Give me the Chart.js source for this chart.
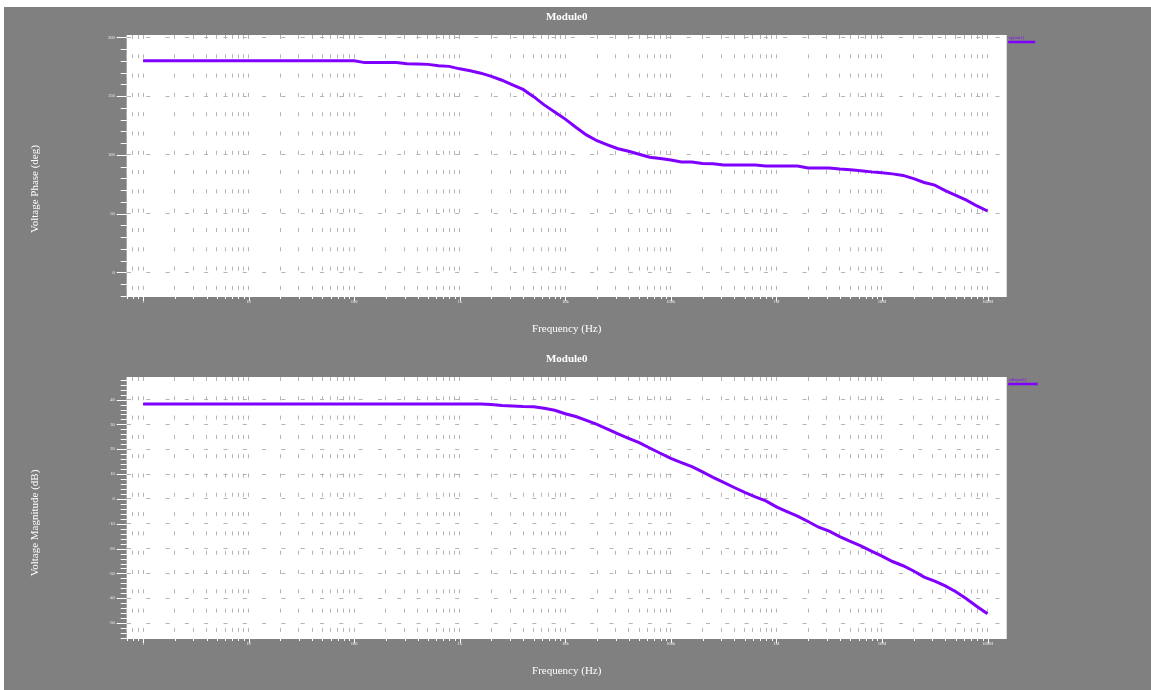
<!DOCTYPE html>
<html>
<head>
<meta charset="utf-8">
<title>Module0</title>
<script src="https://cdn.jsdelivr.net/npm/chart.js"></script>
<style>
  body { margin: 0; background: #ffffff; }
  #wrap { position: absolute; left: 4px; top: 7px; width: 1147px; height: 684px; background: #808080; overflow: hidden; }
  canvas { display: block; }
</style>
</head>
<body>
<div id="wrap">
  <canvas id="phaseChart" width="1147" height="342"></canvas>
  <canvas id="magChart" width="1147" height="342"></canvas>
</div>
<script>
// Sweep frequencies (Hz), 10 points per decade
const freqHz = [
  1, 1.259, 1.585, 1.995, 2.512, 3.162, 3.981, 5.012, 6.310, 7.943,
  10, 12.59, 15.85, 19.95, 25.12, 31.62, 39.81, 50.12, 63.10, 79.43,
  100, 125.9, 158.5, 199.5, 251.2, 316.2, 398.1, 501.2, 631.0, 794.3,
  1e3, 1.259e3, 1.585e3, 1.995e3, 2.512e3, 3.162e3, 3.981e3, 5.012e3, 6.310e3, 7.943e3,
  1e4, 1.259e4, 1.585e4, 1.995e4, 2.512e4, 3.162e4, 3.981e4, 5.012e4, 6.310e4, 7.943e4,
  1e5, 1.259e5, 1.585e5, 1.995e5, 2.512e5, 3.162e5, 3.981e5, 5.012e5, 6.310e5, 7.943e5,
  1e6, 1.259e6, 1.585e6, 1.995e6, 2.512e6, 3.162e6, 3.981e6, 5.012e6, 6.310e6, 7.943e6,
  1e7, 1.259e7, 1.585e7, 1.995e7, 2.512e7, 3.162e7, 3.981e7, 5.012e7, 6.310e7, 7.943e7,
  1e8
];

// vp(out1) in degrees
const phaseDeg = [
  180, 180, 180, 180, 180, 180, 180, 180, 180, 180,
  180, 180, 180, 180, 180, 180, 180, 180, 180, 180,
  180, 178.5, 178.5, 178.5, 178.5, 177.6, 177.3, 177.0, 175.8, 175.3,
  173.2, 171.5, 169.5, 166.8, 163.5, 159.5, 155.7, 149.5, 142.5, 136.5,
  130.4, 123.5, 117.0, 112.0, 108.5, 105.2, 103.0, 100.5, 98.0, 96.8,
  95.6, 93.9, 93.8, 92.6, 92.5, 91.3, 91.3, 91.3, 91.3, 90.4,
  90.4, 90.4, 90.4, 88.8, 88.8, 88.8, 88.0, 87.4, 86.4, 85.5,
  84.8, 83.8, 82.5, 79.8, 76.5, 74.2, 69.5, 65.5, 61.5, 56.5,
  52.2
];

// vdb(out1) in dB
const magDb = [
  38.2, 38.2, 38.2, 38.2, 38.2, 38.2, 38.2, 38.2, 38.2, 38.2,
  38.2, 38.2, 38.2, 38.2, 38.2, 38.2, 38.2, 38.2, 38.2, 38.2,
  38.2, 38.2, 38.2, 38.2, 38.2, 38.2, 38.2, 38.2, 38.2, 38.2,
  38.2, 38.2, 38.2, 38.0, 37.6, 37.4, 37.2, 37.1, 36.5, 35.7,
  34.3, 33.2, 31.6, 30.0, 28.1, 26.2, 24.4, 22.7, 20.5, 18.4,
  16.3, 14.6, 13.0, 10.9, 8.7, 6.7, 4.6, 2.6, 0.8, -0.8,
  -3.2, -5.1, -6.9, -9.1, -11.4, -13.0, -15.2, -17.1, -18.9, -21.0,
  -23.0, -25.2, -26.9, -29.0, -31.5, -33.1, -35.0, -37.4, -40.2, -43.3,
  -46.2
];

// tick labels
const freqLabels = ['1', '10', '100', '1k', '10k', '100k', '1M', '10M', '100M'];
const phaseTicks = [0, 50, 100, 150, 200];
const magTicks = [-50, -40, -30, -20, -10, 0, 10, 20, 30, 40];

const LINE = '#8000ff';
const GRID = '#b4b4b4';
const FONT = '"Liberation Serif", "Times New Roman", serif';

Chart.defaults.font.family = FONT;

function isDecade(v) {
  const l = Math.log10(v);
  return v >= 1 && Math.abs(l - Math.round(l)) < 1e-9;
}

// white plot area, outside tick marks, y title and the small legend
const frame = {
  id: 'frame',
  beforeDraw(chart) {
    const { ctx, chartArea: a } = chart;
    ctx.save();
    ctx.fillStyle = '#ffffff';
    ctx.fillRect(a.left, a.top, a.right - a.left, a.bottom - a.top);
    ctx.restore();
  },
  afterDraw(chart, args, opts) {
    const { ctx, chartArea: a, scales } = chart;
    ctx.save();
    ctx.strokeStyle = '#ffffff';
    ctx.lineWidth = 1;
    ctx.beginPath();
    scales.y.ticks.forEach(t => {
      const py = Math.round(scales.y.getPixelForValue(t.value)) + 0.5;
      const len = opts.major.includes(t.value) ? 10 : 6;
      ctx.moveTo(a.left - len, py);
      ctx.lineTo(a.left, py);
    });
    scales.x.ticks.forEach(t => {
      const px = Math.round(scales.x.getPixelForValue(t.value)) + 0.5;
      const len = isDecade(t.value) ? 4 : 2;
      ctx.moveTo(px, a.bottom);
      ctx.lineTo(px, a.bottom + len);
    });
    ctx.stroke();

    // y axis title
    ctx.save();
    ctx.translate(31, opts.titleY);
    ctx.rotate(-Math.PI / 2);
    ctx.fillStyle = '#ffffff';
    ctx.font = '11px ' + FONT;
    ctx.textAlign = 'center';
    ctx.textBaseline = 'middle';
    ctx.fillText(opts.yTitle, 0, 0);
    ctx.restore();

    // legend: label above a line sample
    const ds = chart.data.datasets[0];
    ctx.fillStyle = ds.borderColor;
    ctx.font = '4.5px ' + FONT;
    ctx.textBaseline = 'top';
    ctx.textAlign = 'left';
    ctx.fillText(ds.label, a.right + 2, a.top + 0.5);
    ctx.strokeStyle = ds.borderColor;
    ctx.lineWidth = 2.5;
    ctx.beginPath();
    ctx.moveTo(a.right + 1.5, a.top + 7);
    ctx.lineTo(a.right + 1.5 + opts.lineLen, a.top + 7);
    ctx.stroke();
    ctx.restore();
  }
};

function makeChart(id, label, values, yTitle, titleY, yMin, yMax, major, minorStep, lineLen) {
  const ctx = document.getElementById(id).getContext('2d');
  return new Chart(ctx, {
    type: 'line',
    data: {
      datasets: [{
        label: label,
        data: freqHz.map((f, i) => ({ x: f, y: values[i] })),
        borderColor: LINE,
        backgroundColor: LINE,
        borderWidth: 3,
        pointRadius: 0,
        tension: 0,
        fill: false
      }]
    },
    options: {
      responsive: false,
      animation: false,
      devicePixelRatio: 1,
      layout: { padding: { left: 0, right: 144.3, top: 0, bottom: 0 } },
      plugins: {
        legend: { display: false },
        tooltip: { enabled: false },
        title: {
          display: true,
          text: 'Module0',
          color: '#ffffff',
          fullSize: false,
          font: { size: 11, weight: 'bold', family: FONT },
          padding: { top: 4, bottom: 10.8 }
        },
        frame: { major: major, lineLen: lineLen, yTitle: yTitle, titleY: titleY }
      },
      scales: {
        x: {
          type: 'logarithmic',
          min: 0.705,
          max: 1.52e8,
          afterFit: s => { s.height = 52; },
          afterBuildTicks: s => {
            const ticks = [];
            for (let e = -1; e <= 8; e++) {
              for (let m = 1; m <= 9; m++) {
                const v = m * Math.pow(10, e);
                if (v >= s.min && v <= s.max) ticks.push({ value: v });
              }
            }
            s.ticks = ticks;
          },
          ticks: {
            autoSkip: false,
            maxRotation: 0,
            minRotation: 0,
            padding: 2.5,
            color: '#f0f0f0',
            font: { size: 4.5, family: FONT },
            callback: v => isDecade(v) ? freqLabels[Math.round(Math.log10(v))] : ''
          },
          grid: { color: GRID, lineWidth: 1, drawTicks: false },
          border: { display: false, dash: [4, 15.3] },
          title: {
            display: true,
            text: 'Frequency (Hz)',
            color: '#ffffff',
            font: { size: 11, family: FONT },
            padding: { top: 0, bottom: 12.9 }
          }
        },
        y: {
          type: 'linear',
          min: yMin,
          max: yMax,
          afterFit: s => { s.width = 122.7; },
          afterBuildTicks: s => {
            const ticks = [];
            const start = Math.ceil(s.min / minorStep) * minorStep;
            for (let v = start; v <= s.max; v += minorStep) ticks.push({ value: v });
            s.ticks = ticks;
          },
          ticks: {
            autoSkip: false,
            padding: 12,
            color: '#f0f0f0',
            font: { size: 4.5, family: FONT },
            callback: v => major.includes(v) ? String(v) : ''
          },
          grid: {
            drawTicks: false,
            lineWidth: 1,
            color: c => (c.tick && major.includes(c.tick.value)) ? GRID : 'rgba(0,0,0,0)'
          },
          border: { display: false, dash: [4, 15.3] },
          title: { display: false }
        }
      }
    },
    plugins: [frame]
  });
}

makeChart('phaseChart', 'vp(out1)', phaseDeg, 'Voltage Phase (deg)', 182, -21, 202, phaseTicks, 10, 27);
makeChart('magChart', 'vdb(out1)', magDb, 'Voltage Magnitude (dB)', 174, -56.4, 49.1, magTicks, 2, 29.5);
</script>
</body>
</html>
